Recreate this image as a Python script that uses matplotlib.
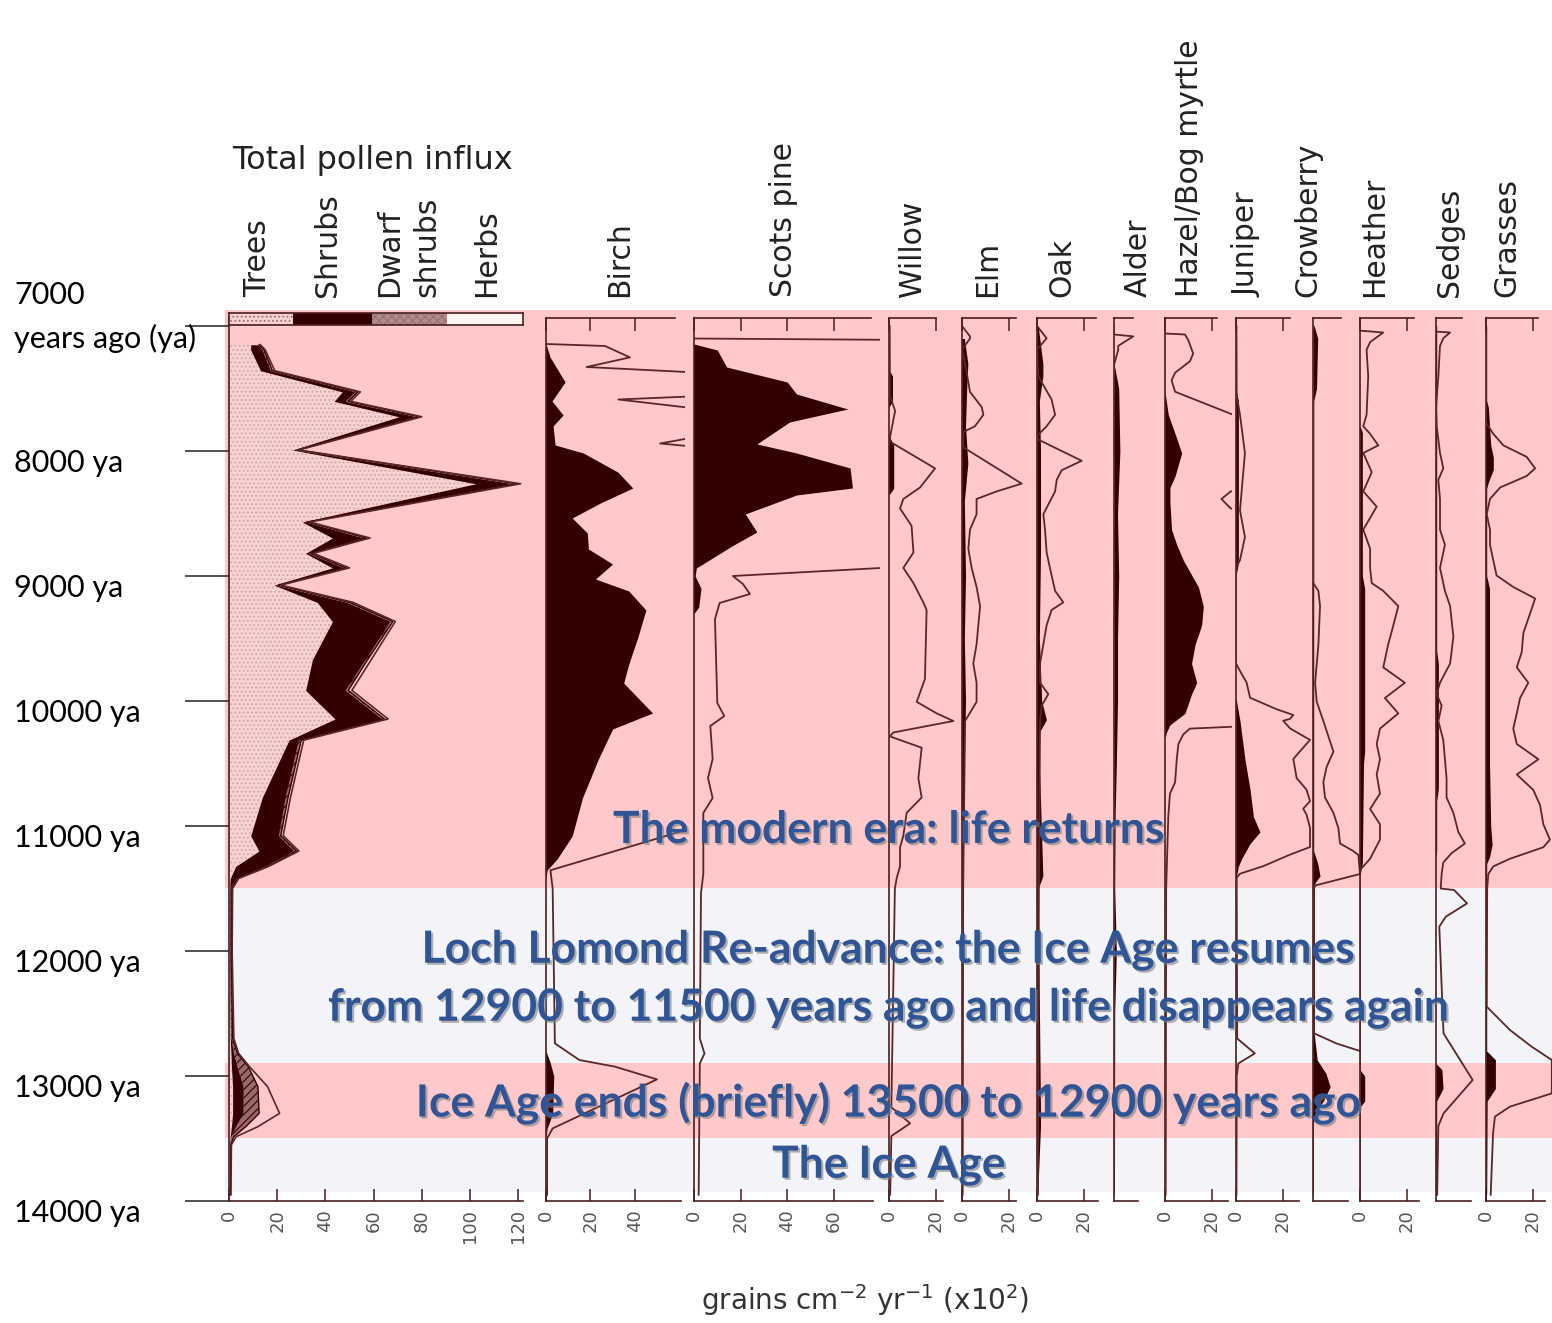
import matplotlib
matplotlib.use("Agg")
import matplotlib.pyplot as plt
import matplotlib.patheffects as pe
from matplotlib.transforms import blended_transform_factory, ScaledTranslation

nan = float("nan")

# ---------- DATA (years ago, influx in grains cm-2 yr-1 x10^2) ---------- #

era_names = ["The modern era: life returns",
             "Loch Lomond Re-advance: the Ice Age resumes\nfrom 12900 to 11500 years ago and life disappears again",
             "Ice Age ends (briefly) 13500 to 12900 years ago",
             "The Ice Age"]
era_start = [7000, 11500, 12900, 13500]
era_end = [11500, 12900, 13500, 14000]

age_ticks = [7000, 8000, 9000, 10000, 11000, 12000, 13000, 14000]

# total pollen influx (cumulative curves)
ages_total = [7150, 7190, 7358, 7527, 7603, 7726, 7992, 8262, 8568, 8696, 8819, 8935,
              9073, 9211, 9364, 9670, 9915, 10144, 10313, 10772, 11078, 11200, 11323,
              11420, 11500, 12000, 12700, 12819, 12925, 13085, 13299, 13405, 13485,
              13550, 13950]
trees = [9.0, 9.0, 13.1, 47, 43.6, 70.5, 26.3, 102.4, 30.4, 42.9, 31.8, 42.9, 18.7,
         36.6, 42.9, 34.6, 31.8, 44, 24.9, 13.8, 9, 12.4, 2.8, 0.5, 0.3, 0.3, 0.5, 0.8,
         1.0, 1.5, 1.5, 1.0, 0.5, 0.3, 0.2]
shrubs_top = [12, 13.8, 17.3, 52.6, 48.4, 78, 27.7, 118, 31.8, 56, 33.2, 47.7, 19.6, 49,
              67, 56.7, 48.4, 63.6, 29, 23.5, 20.7, 27, 15.2, 3, 0.7, 0.6, 1.0, 2.0, 3.5,
              6, 6, 3, 1, 0.5, 0.4]
dwarf_top = [12.5, 14.5, 18, 53.5, 49.5, 79, 28.5, 119.5, 32.5, 57, 34, 48.5, 20.5, 50,
             68, 57.5, 49.5, 64.5, 30, 24.5, 21.5, 28, 16, 3.5, 1.2, 1.0, 1.5, 3.5, 8, 12,
             12.5, 7, 2, 0.8, 0.6]
herbs_top = [13, 15, 19, 54.5, 50.5, 80, 29, 121, 33.5, 58.5, 35, 50, 21.5, 51.5, 69, 59,
             51, 66, 31, 25.5, 22.5, 29, 16.5, 4, 1.5, 1.3, 2, 4, 8.5, 16, 21, 12, 3, 1, 0.8]

legend_names = ["Trees", "Shrubs", "Dwarf shrubs", "Herbs"]
legend_left = [0, 26.5, 59.5, 90.5]
legend_width = [26.5, 33, 31, 31.5]

# birch
ages_birch = [7144, 7248, 7448, 7600, 7712, 7800, 7952, 8016, 8168, 8296, 8416, 8536, 8656,
              8784, 8904, 9024, 9120, 9272, 9488, 9704, 9856, 9912, 10096, 10224, 10464,
              10776, 11080, 11264, 11352, 11416, 11500, 12800, 12900, 13000, 13300, 13420,
              13500, 13950]
birch = [0, 1.8, 8.6, 2.7, 7.7, 3.2, 4.1, 16.8, 32.3, 39.1, 24.5, 11.8, 18.6, 19.1, 30,
         22.3, 37.3, 45, 41.4, 37.3, 35, 38, 48, 30, 23.6, 16.4, 11.8, 5, 0.5, 0, 0, 0, 2,
         3.5, 3, 0.5, 0, 0]
ages_birch_x = [7144, 7160, 7251, 7328, 7374, 7560, 7588, 7665, 7880, 7940, 7971, 8000,
                10900, 11032, 11354, 11500, 12739, 12872, 12925, 13027, 13419, 13500, 13950]
birch_x = [0.3, 26.6, 37.8, 18.3, 70, 70, 32.6, 70, 70, 51.4, 70, 90, 90, 63, 2, 3, 4, 15,
           31, 50, 3, 0.5, 0.5]

# scots pine
ages_pine = [7144, 7192, 7328, 7448, 7544, 7664, 7768, 7944, 8016, 8136, 8296, 8352, 8504,
             8648, 8752, 8936, 9000, 9100, 9250, 9300]
pine = [0, 10, 14, 40, 44, 66, 41, 27, 44, 67, 68, 44, 22, 27, 17, 1, 0.5, 3, 2, 0]
ages_pine_x = [7100, 7112, 8900, 8936, 9000, 9064, 9144, 9216, 9344, 10016, 10120, 10200,
               10464, 10616, 10776, 10896, 11384, 11536, 12700, 12820, 12900, 13950]
pine_x = [0, 95, 95, 80, 16.7, 21, 24, 11, 9, 10, 13, 7, 8, 6, 8, 4, 4, 3, 2.5, 4.5, 2.5, 2]

# willow
ages_willow = [7000, 7500, 7557, 7679, 7894, 7925, 8139, 8292, 8384, 8460, 8598, 8812,
               8935, 9057, 9211, 9272, 9823, 10007, 10099, 10160, 10252, 10283, 10374,
               10619, 10772, 10895, 11078, 11170, 11323, 11415, 11500, 13250, 13379, 13480,
               13950]
willow = [0.3, 0.4, 0.4, 2.6, 0.4, 0.4, 19.6, 13.2, 6.1, 4.7, 9.6, 10.4, 6.1, 10.4, 14.6,
          16, 15.3, 11.8, 20.3, 27.4, 1.8, 0.4, 13.9, 12.5, 13.9, 7.5, 6.1, 4.7, 4.7, 3.3,
          2.5, 1, 9, 1, 0.5]
ages_willow_f = [7350, 7400, 7600, 7650, 7880, 7950, 8300, 8350]
willow_f = [0, 1.5, 1.5, 0, 0, 2, 2, 0]

# elm
ages_elm = [7000, 7083, 7100, 7190, 7374, 7527, 7649, 7710, 7802, 7848, 7971, 8261, 8323,
            8384, 8506, 8629, 8782, 8935, 9088, 9241, 9547, 9700, 9854, 10007, 10160, 11500,
            13950]
elm = [0, 3.4, 3.4, 0, 2, 3.4, 8.4, 9.1, 5.5, 0.6, 0.6, 25.4, 14.8, 6.2, 6.2, 3.4, 2.7,
       4.1, 6.2, 7.7, 6.2, 4.8, 6.2, 6.2, 1.3, 0.5, 0.3]
ages_elm_f = [7100, 7300, 7500, 7800, 8100, 8400, 9000, 9500, 10000, 10500, 11000, 11500]
elm_f = [1, 2.5, 2, 1.5, 2.5, 1, 1.5, 1, 1.5, 1, 0.8, 0.3]

# oak
ages_oak = [7000, 7098, 7190, 7404, 7588, 7710, 7802, 7879, 7909, 8078, 8154, 8231, 8323,
            8506, 8629, 8812, 8935, 9119, 9211, 9272, 9394, 9547, 9700, 9854, 9945, 10037,
            10160, 11500, 13950]
oak = [0, 4.1, 0, 0.6, 6.2, 7.7, 4.1, 0, 0.6, 19, 10.5, 8.4, 7.7, 2.7, 3.4, 4.1, 5.5, 7.7,
       11.2, 6.2, 4.1, 2.7, 1.3, 1.3, 4.8, 2, 1.3, 0.8, 0.4]
ages_oak_f = [7000, 7300, 7400, 7600, 8000, 8800, 9500, 10000, 10150, 10250, 10500, 11400,
              11500, 13300, 13400, 13950]
oak_f = [0.5, 2.5, 2.5, 1, 1.5, 1.5, 1, 2, 4, 1, 1, 2.5, 0.5, 1.5, 1.5, 0.3]

# alder
ages_alder = [7000, 7068, 7083, 7159, 7190, 7312, 13950]
alder = [0, 0, 8.2, 1.8, 1.8, 0, 0]
ages_alder_f = [7300, 7500, 8000, 8500, 9000, 9500, 10000, 10500, 10900, 11500, 12000,
                12500, 13950]
alder_f = [0, 2, 2.5, 1.5, 2, 1.5, 1.5, 1, 0.5, 0.3, 1, 0.3, 0.2]

# hazel / bog myrtle
ages_hazel_f = [7526, 7710, 7863, 8016, 8200, 8292, 8414, 8629, 8751, 8874, 9088, 9241,
                9394, 9547, 9700, 9854, 9945, 10099, 10191, 10252, 10300]
hazel_f = [0, 1.4, 4.3, 7.1, 4.3, 2.1, 2.1, 2.8, 5, 7.8, 14.2, 16.3, 15.6, 12.8, 11.3, 13.5,
           11.3, 8.5, 2.1, 0.6, 0]
ages_hazel = [7000, 7060, 7068, 7113, 7221, 7282, 7374, 7435, 7526, 7710, 7720, 8310, 8323,
              8384, 8460, 8470, 10190, 10206, 10221, 10267, 10344, 10466, 10650, 10742,
              10925, 11500, 13950]
hazel = [0, 0, 8.5, 9.9, 12, 10.6, 4.3, 2.8, 4.3, 29, 60, 60, 28, 24, 28, 60, 60, 28.5,
         10.6, 7.8, 5.7, 5, 4.3, 2.1, 1.4, 0.5, 0.3]

# juniper
ages_juniper_f = [7500, 7600, 8900, 9000, 9976, 10160, 10466, 10711, 10925, 11048, 11140,
                  11262, 11323, 11384, 11420]
juniper_f = [0, 1, 1, 0, 0, 1.7, 3.8, 6, 7.4, 10.2, 6, 2.4, 1, 0.4, 0]
ages_juniper = [7000, 7557, 7710, 8016, 8169, 8475, 8689, 8873, 8934, 9699, 9760, 9852,
                9974, 10066, 10112, 10143, 10158, 10219, 10311, 10403, 10464, 10617, 10709,
                10801, 10862, 10908, 11015, 11168, 11229, 11321, 11382, 11413, 11500, 12700,
                12819, 12900, 13000, 13950]
juniper = [0.2, 0.3, 1.7, 3.8, 3.1, 1.7, 3.8, 1.7, 0, 0, 1.7, 4.5, 6, 17.3, 24.4, 23, 20.1,
           23, 31.5, 27.2, 24.4, 25.8, 30, 31.5, 28.6, 30, 31.5, 31.5, 23, 11.6, 1.7, 0.3,
           0.3, 0.5, 8, 1, 0.3, 0.2]

# crowberry
ages_crowberry_f = [7000, 7100, 7500, 7600, 11200, 11300, 11400, 11450, 11500, 12600, 12659,
                    12872, 12979, 13085, 13192, 13299, 13350, 13950]
crowberry_f = [0.5, 2, 1.5, 0.3, 0.3, 2, 3, 1, 0.2, 0.2, 0.5, 1.8, 5.5, 7.3, 4.6, 1, 0.2, 0.2]
ages_crowberry = [7000, 9057, 9119, 9241, 9547, 9854, 10007, 10160, 10405, 10527, 10650,
                  10772, 10895, 11017, 11140, 11201, 11232, 11384, 11476, 11500, 12600, 12659,
                  12740, 12830, 12900, 13950]
crowberry = [0.1, 0.1, 2.3, 3, 2.3, 0.9, 1.6, 4.4, 8.7, 5.8, 4.4, 5.1, 8.7, 10.8, 11.5, 17.2,
             19.3, 20, 0.9, 0.5, 0.5, 0.5, 10, 25, nan, nan]

# heather
ages_heather_f = [7000, 7800, 7850, 9000, 9100, 10400, 10500, 11300, 11400, 12950, 13000,
                  13200, 13250, 13950]
heather_f = [0, 0, 1, 1, 2, 2, 1.5, 1, 0, 0, 2, 2, 0, 0]
ages_heather = [7000, 7037, 7052, 7129, 7190, 7404, 7710, 7802, 7863, 7955, 8016, 8170, 8323,
                8445, 8629, 8782, 8935, 9057, 9119, 9241, 9394, 9547, 9731, 9854, 9976, 10099,
                10221, 10344, 10466, 10588, 10741, 10864, 10986, 11109, 11262, 11323, 11353,
                11500, 13950]
heather = [0, 0, 9.9, 4.3, 2.8, 3.5, 2.8, 1.4, 4.3, 7.8, 1.4, 5, 1.4, 7.1, 1.4, 4.3, 4.3, 5,
           9.9, 16.3, 14.2, 12, 9.9, 19.1, 10.6, 16.3, 8.5, 7.1, 8.5, 7.1, 8.5, 4.3, 8.5, 8.5,
           4.3, 1.4, 0, 0, 0]

# sedges
ages_sedges_f = [7000, 9600, 9700, 10700, 10800, 11200, 11250, 12900, 12950, 13100, 13200, 13950]
sedges_f = [0.3, 0.3, 1, 1, 0.3, 0.3, 0, 0, 2.5, 3, 0.3, 0.3]
ages_sedges = [7000, 7045, 7052, 7098, 7159, 7404, 7649, 7802, 8016, 8139, 8231, 8384, 8629,
               8751, 8935, 9119, 9241, 9486, 9700, 9854, 9945, 10037, 10160, 10313, 10466,
               10619, 10772, 10895, 11048, 11140, 11216, 11292, 11384, 11500, 11512, 11619,
               11725, 11805, 12659, 13032, 13299, 13400, 13950]
sedges = [0, 0, 6, 3.1, 1.7, 1, 0, 0.3, 1.7, 3.1, 1, 1.7, 1.7, 3.8, 1.7, 3.8, 6, 7.4, 6,
          1.7, 0.3, 2.4, 1, 3.1, 3.8, 4.5, 4.5, 7.4, 9.5, 12.3, 6.7, 3.1, 2.4, 2, 7.7, 13.2,
          4.2, 1.4, 3.2, 15.6, 3.2, 1, 0.5]

# grasses
ages_grasses_f = [7000, 7600, 7650, 7950, 8050, 8150, 8250, 8300, 9000, 9100, 10500, 11000,
                  11150, 11250, 11300, 12800, 12870, 13100, 13200, 13950]
grasses_f = [0.3, 0.3, 1.0, 2, 3.1, 3.1, 1, 0.3, 0.3, 1.5, 1.5, 2, 2.6, 1.5, 0.3, 0.3, 4, 4,
             0.5, 0.3]
ages_grasses = [7000, 7037, 7404, 7649, 7772, 7863, 7955, 8047, 8139, 8200, 8292, 8384, 8506,
                8629, 8751, 8874, 8996, 9088, 9180, 9303, 9456, 9609, 9731, 9854, 9976, 10099,
                10221, 10344, 10466, 10588, 10711, 10833, 10986, 11109, 11170, 11262, 11323,
                11384, 11500, 12445, 12632, 12765, 12872, 13139, 13245, 13325, 13459, 13950]
grasses = [0, 0, 0, 0, 0, 3.1, 7.4, 17.3, 20.9, 17.3, 6, 1.7, 0.3, 1.7, 1.7, 3.1, 4.5, 11.6,
           20.9, 18.7, 15.9, 15.2, 13.1, 18, 14.5, 13.1, 11.6, 13.1, 22.3, 13.1, 20.1, 23,
           24.4, 27.2, 24.4, 10.2, 3.1, 1, 0.5, 0.3, 10.2, 19.4, 28, 28, 10.2, 3.8, 3, 2]


# ---------- LAYOUT / STYLE ---------- #

W, H = 1552, 1323
DARK = "#330000"
LINE = "#5a2626"
FRAME = "#4a1e1e"
PINK = "#ffc9c9"
PALE = "#f2f4f9"
BLUE = "#2f5597"
AX_TOP, AX_BOT = 318, 1201
AGE_TOP, AGE_BOT = 6936, 14000

plt.rcParams["hatch.linewidth"] = 0.8

fig = plt.figure(figsize=(W / 100, H / 100), dpi=100)


def fx(px):
    return px / W


def fy(py):
    return 1 - py / H


# ---------- ERA BANDS ---------- #

bg = fig.add_axes([fx(225), fy(1192), 1 - fx(225), (1192 - 310) / H])
bg.set_xlim(0, 1)
bg.set_ylim(13928, 6872)
bg.axis("off")
band_colors = [PINK, PALE, PINK, PALE]
for i in range(len(era_start)):
    top = bg.get_ylim()[1] if i == 0 else era_start[i]
    bg.axhspan(top, era_end[i], color=band_colors[i], lw=0)


# ---------- PANELS ---------- #

def panel(zero, scale, xmax, top_end, bot_end, ticks, labelled):
    ax = fig.add_axes([fx(zero), fy(AX_BOT), xmax * scale / W, (AX_BOT - AX_TOP) / H])
    ax.set_xlim(0, xmax)
    ax.set_ylim(AGE_BOT, AGE_TOP)
    ax.patch.set_visible(False)
    ax.spines["right"].set_visible(False)
    for s in ["left", "top", "bottom"]:
        ax.spines[s].set_color(FRAME)
        ax.spines[s].set_linewidth(1.2)
    if top_end is None:
        ax.spines["top"].set_visible(False)
    else:
        ax.spines["top"].set_bounds(0, top_end)
    ax.spines["bottom"].set_bounds(0, bot_end)
    ax.set_yticks([])
    ax.set_xticks(ticks)
    ax.tick_params(axis="x", direction="in", length=9, width=1.1, color=FRAME,
                   top=top_end is not None, labelbottom=labelled, labelrotation=90,
                   labelsize=13, labelcolor="#555555", pad=6)
    return ax


def curve(ax, ages, vals):
    ax.plot(vals, ages, color=LINE, lw=1.3, zorder=4)


def silhouette(ax, ages, vals):
    ax.fill_betweenx(ages, 0, vals, color=DARK, lw=0, zorder=3)


# total pollen influx
ax_t = panel(229, 2.41, 122, None, 122, [0, 20, 40, 60, 80, 100, 120], True)
ax_t.fill_betweenx(ages_total, 0, trees, facecolor="#f6d2d2", edgecolor="#d8a3a3",
                   hatch="....", lw=0, zorder=2)
ax_t.fill_betweenx(ages_total, trees, shrubs_top, color=DARK, lw=0, zorder=3)
ax_t.fill_betweenx(ages_total, shrubs_top, dwarf_top, facecolor="#9a6a6a",
                   edgecolor=DARK, hatch="////", lw=0, zorder=3)
ax_t.plot(dwarf_top, ages_total, color=DARK, lw=1.0, zorder=4)
ax_t.plot(herbs_top, ages_total, color=LINE, lw=1.2, zorder=4)
ax_t.set_yticks(age_ticks)
ax_t.tick_params(axis="y", direction="out", length=32, width=1.2, color="#333333",
                 labelleft=False)

leg = fig.add_axes([fx(229), fy(325), 122 * 2.41 / W, 12 / H])
leg.set_xlim(0, 122)
leg.set_ylim(0, 1)
leg_face = ["#f6d2d2", DARK, "#b08c8c", "#fff4f4"]
leg_hatch = ["....", None, "xxxx", None]
for i in range(len(legend_names)):
    leg.barh(0.5, legend_width[i], left=legend_left[i], height=1, color=leg_face[i],
             edgecolor="#9a7070" if leg_hatch[i] else leg_face[i], hatch=leg_hatch[i], lw=0)
leg.set_xticks([])
leg.set_yticks([])
for s in leg.spines.values():
    s.set_color(FRAME)
    s.set_linewidth(1.2)

# birch
ax_b = panel(546, 2.22, 62.6, 58, 61, [0, 20, 40], True)
silhouette(ax_b, ages_birch, birch)
curve(ax_b, ages_birch_x, birch_x)

# scots pine
ax_p = panel(694, 2.33, 80, 76, 77, [0, 20, 40, 60], True)
silhouette(ax_p, ages_pine, pine)
curve(ax_p, ages_pine_x, pine_x)

small = [
    # zero px, xmax, top end, bottom end, ticks, labelled, silhouette, curve
    (889, 28, 20, 23, [0, 20], True, (ages_willow_f, willow_f), (ages_willow, willow)),
    (962, 27, 23, 23, [0, 20], True, (ages_elm_f, elm_f), (ages_elm, elm)),
    (1037, 26, 25, 26, [0, 20], True, (ages_oak_f, oak_f), (ages_oak, oak)),
    (1114, 20, 8, 10, [], False, (ages_alder_f, alder_f), (ages_alder, alder)),
    (1165, 28.5, 22, 27, [0, 20], True, (ages_hazel_f, hazel_f), (ages_hazel, hazel)),
    (1236, 32, 23, 27, [0, 20], True, (ages_juniper_f, juniper_f), (ages_juniper, juniper)),
    (1313, 20.5, 12, 15, [], False, (ages_crowberry_f, crowberry_f), (ages_crowberry, crowberry)),
    (1360, 25, 23, 25, [0, 20], True, (ages_heather_f, heather_f), (ages_heather, heather)),
    (1436, 16.5, 11, 15, [], False, (ages_sedges_f, sedges_f), (ages_sedges, sedges)),
    (1486, 28, 22, 25, [0, 20], True, (ages_grasses_f, grasses_f), (ages_grasses, grasses)),
]
for zero, xmax, top_end, bot_end, ticks, labelled, sil, cur in small:
    ax = panel(zero, 2.35, xmax, top_end, bot_end, ticks, labelled)
    silhouette(ax, *sil)
    curve(ax, *cur)


# ---------- TEXT ---------- #

# age scale labels
tr = blended_transform_factory(fig.transFigure, ax_t.transData)
down = ScaledTranslation(0, -12 / 100, fig.dpi_scale_trans)
up = ScaledTranslation(0, 31 / 100, fig.dpi_scale_trans)
fig.text(fx(14), age_ticks[0], "7000", transform=tr + up, ha="left", va="center",
         fontsize=22, family="Lato", color="black")
fig.text(fx(14), age_ticks[0], "years ago (ya)", transform=tr + down, ha="left",
         va="center", fontsize=22, family="Lato", color="black")
for a in age_ticks[1:]:
    fig.text(fx(14), a, f"{a} ya", transform=tr + down, ha="left", va="center",
             fontsize=22, family="Lato", color="black")

# column headers
fig.text(fx(372), fy(160), "Total pollen influx", ha="center", va="center",
         fontsize=23, color="#222222")
headers = [("Trees", 258), ("Shrubs", 328), ("Dwarf", 390), ("shrubs", 427),
           ("Herbs", 487), ("Birch", 620), ("Scots pine", 783), ("Willow", 912),
           ("Elm", 988), ("Oak", 1062), ("Alder", 1138), ("Hazel/Bog myrtle", 1190),
           ("Juniper", 1247), ("Crowberry", 1308), ("Heather", 1375), ("Sedges", 1450),
           ("Grasses", 1507)]
for name, x in headers:
    fig.text(fx(x), fy(297), name, rotation=90, ha="center", va="bottom",
             fontsize=21.5, color="#222222")

fig.text(fx(865), fy(1300), r"grains cm$^{-2}$ yr$^{-1}$ (x10$^{2}$)", ha="center",
         va="center", fontsize=20, color="#333333")

# era captions
shadow = [pe.SimplePatchShadow(offset=(1.5, -1.5), shadow_rgbFace="#7f7f7f", alpha=0.6),
          pe.Normal()]
caption_rows = [(era_names[0], 830), (era_names[1].split("\n")[0], 950),
                (era_names[1].split("\n")[1], 1008), (era_names[2], 1103),
                (era_names[3], 1165)]
for text, y in caption_rows:
    fig.text(fx(889), fy(y), text, ha="center", va="center", fontsize=32,
             family="Lato", weight="bold", color=BLUE, path_effects=shadow, zorder=10)

fig.savefig("out.png", dpi=100)
